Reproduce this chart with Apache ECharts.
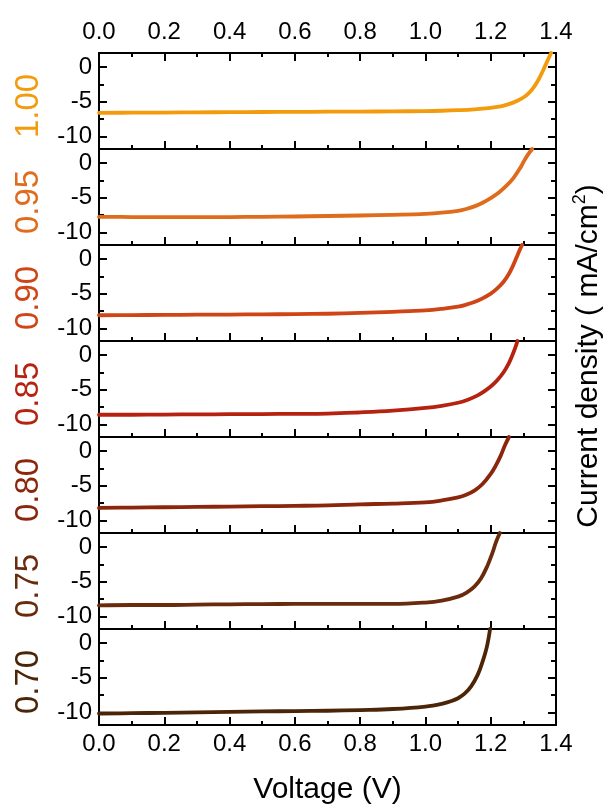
<!DOCTYPE html>
<html>
<head>
<meta charset="utf-8">
<script src="https://cdn.jsdelivr.net/npm/echarts@6/dist/echarts.min.js"></script>
<style>
html,body{margin:0;padding:0;background:#fff;}
#chart{width:610px;height:811px;}
</style>
</head>
<body>
<div id="chart"></div>
<script>
// ---- data (Voltage V, Current density mA/cm2) ----
const panelLabels = ['1.00','0.95','0.90','0.85','0.80','0.75','0.70'];
const panelColors = ['#F39B0D','#DE6C1C','#CF4516','#B62210','#8B260C','#6A2B0C','#4B2507'];
const xTicks = [0.0,0.2,0.4,0.6,0.8,1.0,1.2,1.4];
const yMajorTicks = [0,-5,-10];
const yMinorTicks = [-2.5,-7.5];

const jv100 = [[0,-6.6],[0.1,-6.58],[0.2,-6.56],[0.3,-6.53],[0.4,-6.5],[0.5,-6.48],[0.6,-6.46],[0.7,-6.44],[0.8,-6.42],[0.9,-6.39],[1.0,-6.35],[1.05,-6.3],[1.1,-6.22],[1.15,-6.1],[1.2,-5.9],[1.22,-5.76],[1.24,-5.56],[1.26,-5.28],[1.28,-4.9],[1.3,-4.4],[1.315,-3.85],[1.33,-3.05],[1.345,-1.95],[1.36,-0.55],[1.372,0.7],[1.385,2.0]];
const jv095 = [[0,-7.75],[0.1,-7.78],[0.2,-7.8],[0.3,-7.8],[0.4,-7.78],[0.5,-7.75],[0.6,-7.7],[0.7,-7.63],[0.8,-7.56],[0.9,-7.46],[1.0,-7.32],[1.05,-7.16],[1.1,-6.88],[1.125,-6.62],[1.15,-6.25],[1.175,-5.72],[1.2,-5.05],[1.225,-4.25],[1.25,-3.2],[1.27,-2.15],[1.29,-0.75],[1.3,0.1],[1.312,1.05],[1.327,2.0]];
const jv090 = [[0,-8.1],[0.1,-8.08],[0.2,-8.05],[0.3,-8.02],[0.4,-8.0],[0.5,-7.97],[0.6,-7.93],[0.7,-7.88],[0.8,-7.76],[0.9,-7.6],[1.0,-7.4],[1.05,-7.18],[1.1,-6.86],[1.125,-6.58],[1.15,-6.2],[1.175,-5.68],[1.2,-5.0],[1.22,-4.25],[1.24,-3.25],[1.255,-2.2],[1.268,-1.0],[1.28,0.3],[1.289,1.3],[1.296,2.0]];
const jv085 = [[0,-8.6],[0.1,-8.6],[0.2,-8.57],[0.3,-8.55],[0.4,-8.52],[0.5,-8.5],[0.6,-8.47],[0.7,-8.43],[0.8,-8.25],[0.9,-8.0],[1.0,-7.62],[1.05,-7.32],[1.1,-6.88],[1.13,-6.45],[1.16,-5.82],[1.18,-5.25],[1.2,-4.55],[1.22,-3.65],[1.24,-2.45],[1.255,-1.25],[1.265,-0.2],[1.275,1.0],[1.282,2.0]];
const jv080 = [[0,-8.2],[0.1,-8.15],[0.2,-8.1],[0.3,-8.05],[0.4,-8.0],[0.5,-7.95],[0.6,-7.9],[0.7,-7.83],[0.8,-7.68],[0.9,-7.58],[1.0,-7.4],[1.05,-7.12],[1.1,-6.68],[1.125,-6.3],[1.15,-5.7],[1.175,-4.75],[1.2,-3.3],[1.215,-2.15],[1.23,-0.75],[1.244,0.85],[1.256,2.0]];
const jv075 = [[0,-8.4],[0.1,-8.35],[0.2,-8.35],[0.3,-8.3],[0.4,-8.25],[0.5,-8.22],[0.6,-8.2],[0.7,-8.2],[0.8,-8.18],[0.9,-8.2],[1.0,-8.0],[1.05,-7.72],[1.1,-7.15],[1.125,-6.6],[1.15,-5.7],[1.17,-4.55],[1.19,-2.7],[1.205,-0.9],[1.217,0.8],[1.228,2.0]];
const jv070 = [[0,-10.15],[0.1,-10.1],[0.2,-10.05],[0.3,-9.98],[0.4,-9.9],[0.5,-9.85],[0.6,-9.8],[0.7,-9.75],[0.8,-9.65],[0.9,-9.5],[1.0,-9.15],[1.05,-8.75],[1.08,-8.35],[1.1,-7.95],[1.12,-7.3],[1.14,-6.25],[1.16,-4.6],[1.175,-2.7],[1.188,-0.6],[1.198,2.0]];
const seriesData = [jv100, jv095, jv090, jv085, jv080, jv075, jv070];

// ---- layout ----
const FONT = 'Liberation Sans, Arial, sans-serif';
const N = 7, TOP = 53, PH = 96, LEFT = 99, RIGHT = 54;
const YMIN = -11.8, YMAX = 2.0;
const TICKFS = 24;

const grids = [], xAxes = [], yAxes = [], series = [], graphics = [];
for (let i = 0; i < N; i++) {
  grids.push({left: LEFT, right: RIGHT, top: TOP + i*PH, height: PH, containLabel: false});
  const line = {show: true, onZero: false, lineStyle: {color: '#000', width: 2}};
  const isLast = i === N-1;
  xAxes.push({
    type: 'value', gridIndex: i, position: 'bottom', min: 0, max: 1.4, interval: 0.2,
    axisLine: line,
    axisTick: {show: true, inside: true, length: 8, lineStyle: {color: '#000', width: 2}},
    minorTick: {show: true, splitNumber: 2, length: 4, lineStyle: {color: '#000', width: 2}},
    splitLine: {show: false}, minorSplitLine: {show: false},
    axisLabel: {show: isLast, color: '#000', fontSize: TICKFS, fontFamily: FONT, margin: 7,
      formatter: v => v.toFixed(1)},
    name: isLast ? 'Voltage (V)' : '', nameLocation: 'middle', nameGap: 50,
    nameTextStyle: {color: '#000', fontSize: 30, fontFamily: FONT}
  });
  const isFirst = i === 0;
  xAxes.push({
    type: 'value', gridIndex: i, position: 'top', min: 0, max: 1.4, interval: 0.2,
    axisLine: line,
    axisTick: {show: isFirst, inside: true, length: 8, lineStyle: {color: '#000', width: 2}},
    minorTick: {show: isFirst, splitNumber: 2, length: 4, lineStyle: {color: '#000', width: 2}},
    splitLine: {show: false}, minorSplitLine: {show: false},
    axisLabel: {show: isFirst, color: '#000', fontSize: TICKFS, fontFamily: FONT, margin: 9,
      formatter: v => v.toFixed(1)}
  });
  const yBase = {type: 'value', gridIndex: i, min: YMIN, max: YMAX, splitLine: {show: false}};
  yAxes.push(Object.assign({}, yBase, {
    position: 'left', axisLine: line,
    axisTick: {show: true, inside: true, length: 8, customValues: yMajorTicks, lineStyle: {color: '#000', width: 2}},
    axisLabel: {show: true, customValues: yMajorTicks, color: '#000', fontSize: TICKFS, fontFamily: FONT, margin: 7}
  }));
  yAxes.push(Object.assign({}, yBase, {
    position: 'left', axisLine: {show: false, onZero: false},
    axisTick: {show: true, inside: true, length: 5, customValues: yMinorTicks, lineStyle: {color: '#000', width: 2}},
    axisLabel: {show: false, customValues: yMinorTicks}
  }));
  yAxes.push(Object.assign({}, yBase, {
    position: 'right', axisLine: line,
    axisTick: {show: true, inside: true, length: 8, customValues: yMajorTicks, lineStyle: {color: '#000', width: 2}},
    axisLabel: {show: false, customValues: yMajorTicks}
  }));
  yAxes.push(Object.assign({}, yBase, {
    position: 'right', axisLine: {show: false, onZero: false},
    axisTick: {show: true, inside: true, length: 5, customValues: yMinorTicks, lineStyle: {color: '#000', width: 2}},
    axisLabel: {show: false, customValues: yMinorTicks}
  }));
  series.push({
    type: 'line', xAxisIndex: i*2, yAxisIndex: i*4, data: seriesData[i],
    showSymbol: false, smooth: 0.4, clip: true,
    lineStyle: {color: panelColors[i], width: 3.8, cap: 'round', join: 'round'}, itemStyle: {color: panelColors[i]}
  });
  graphics.push({
    type: 'text', x: 29, y: TOP + i*PH + PH/2 + 5, rotation: Math.PI/2,
    style: {text: panelLabels[i], fill: panelColors[i], font: '33px ' + FONT, align: 'center', verticalAlign: 'middle'}
  });
}
graphics.push({
  type: 'text', x: 589, y: 356, rotation: Math.PI/2,
  style: {
    text: 'Current density ( mA/cm{sup|2})', fill: '#000', font: '30px ' + FONT,
    align: 'center', verticalAlign: 'middle', lineHeight: 36,
    rich: {sup: {fontSize: 18, fontFamily: FONT, fill: '#000', verticalAlign: 'top', lineHeight: 36}}
  }
});

const chart = echarts.init(document.getElementById('chart'), null, {renderer: 'canvas'});
chart.setOption({
  animation: false,
  backgroundColor: '#fff',
  grid: grids, xAxis: xAxes, yAxis: yAxes, series: series, graphic: graphics
});
</script>
</body>
</html>
